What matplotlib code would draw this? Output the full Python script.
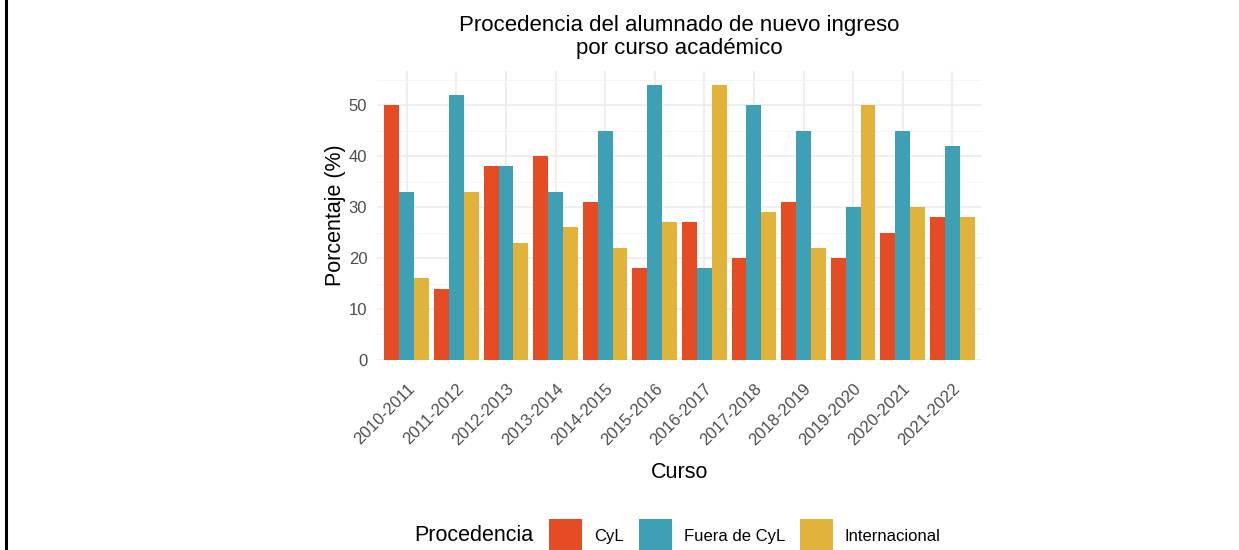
import numpy as np
import matplotlib
matplotlib.use('Agg')
import matplotlib.pyplot as plt
from matplotlib.lines import Line2D

plt.rcParams['font.family'] = ['Liberation Sans', 'DejaVu Sans']

# datos
cursos = ['2010-2011', '2011-2012', '2012-2013', '2013-2014', '2014-2015', '2015-2016',
          '2016-2017', '2017-2018', '2018-2019', '2019-2020', '2020-2021', '2021-2022']
cyl = [50, 14, 38, 40, 31, 18, 27, 20, 31, 20, 25, 28]
fuera = [33, 52, 38, 33, 45, 54, 18, 50, 45, 30, 45, 42]
internacional = [16, 33, 23, 26, 22, 27, 54, 29, 22, 50, 30, 28]

series = ['CyL', 'Fuera de CyL', 'Internacional']
colores = ['#E64C24', '#3DA0B4', '#E2B33A']

fig = plt.figure(figsize=(12.39, 5.5), dpi=100)
ax = fig.add_axes([0.3043, 0.3455, 0.4883, 0.5255])

x = np.arange(len(cursos))
width = 0.3
for i, (vals, nombre, col) in enumerate(zip([cyl, fuera, internacional], series, colores)):
    ax.bar(x + (i - 1) * width, vals, width, color=col, label=nombre, zorder=3)

ax.set_xlim(-0.6, len(cursos) - 0.4)
ax.set_ylim(0, 56.7)
ax.set_yticks([0, 10, 20, 30, 40, 50])
ax.set_yticks([5, 15, 25, 35, 45, 55], minor=True)
ax.set_xticks(x)
ax.set_xticklabels(cursos, rotation=45, ha='right', va='top', rotation_mode='anchor')

ax.grid(which='major', color='#EBEBEB', lw=1.1, zorder=0)
ax.grid(which='minor', axis='y', color='#F4F4F4', lw=0.6, zorder=0)
for s in ax.spines.values():
    s.set_visible(False)
ax.tick_params(which='both', length=0, labelsize=12, labelcolor='#4D4D4D')
ax.tick_params(axis='y', pad=7)
ax.tick_params(axis='x', pad=15)

ax.set_ylabel('Porcentaje (%)', fontsize=15.5, labelpad=2)
ax.set_xlabel('Curso', fontsize=15.5, labelpad=10)
ax.set_title('Procedencia del alumnado de nuevo ingreso\npor curso académico',
             fontsize=16, pad=12, linespacing=1.12)

# leyenda abajo
fig.text(0.3343, 0.0255, 'Procedencia', fontsize=15.5, va='center', ha='left')
leg = fig.legend(loc='center left', bbox_to_anchor=(0.443, 0.0255), ncol=3, frameon=False,
                 fontsize=12, handlelength=2.0, handleheight=2.7, handletextpad=0.7,
                 columnspacing=0.9, borderaxespad=0, borderpad=0)

# borde izquierdo
fig.add_artist(Line2D([0.0045, 0.0045], [0, 1], transform=fig.transFigure, color='black', lw=2.2))

fig.savefig('out.png', dpi=100)
